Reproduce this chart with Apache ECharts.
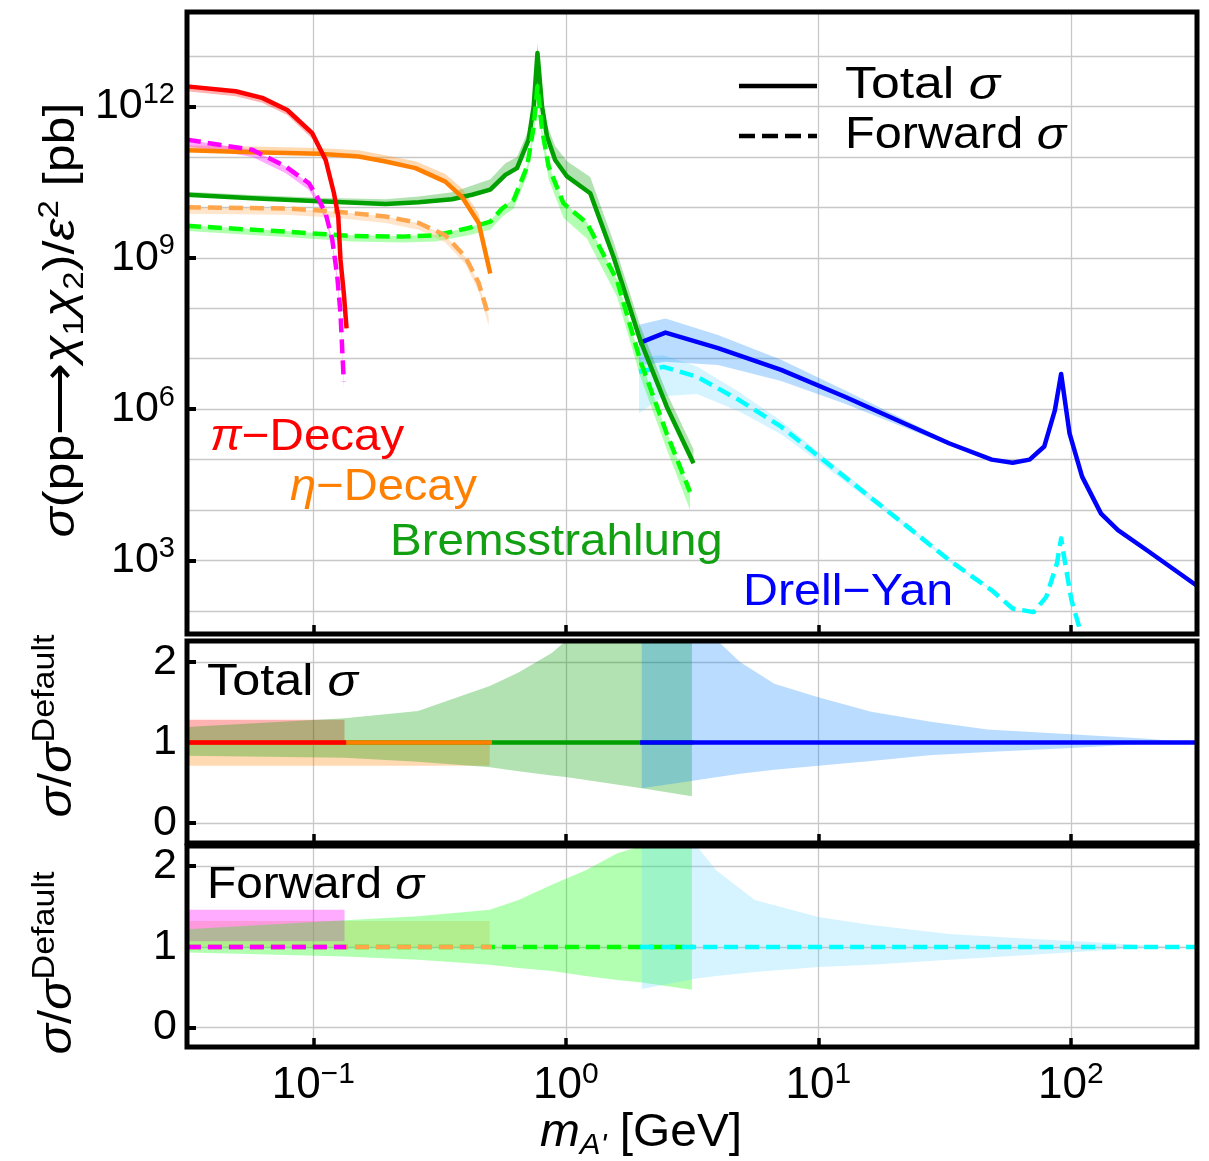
<!DOCTYPE html>
<html><head><meta charset="utf-8">
<script src="https://cdn.jsdelivr.net/npm/echarts@6/dist/echarts.min.js"></script>
<style>html,body{margin:0;padding:0;background:#fff}#c{width:1209px;height:1161px}</style>
</head><body><div id="c"></div>
<script>
// ---------------- DATA ----------------
// x: dark-photon mass m_A' [GeV]; top panel y: sigma/eps^2 [pb]
const xTickDecades = [-1, 0, 1, 2];
const yTopLabelDecades = [3, 6, 9, 12];
const yTopGridDecades = [2, 3, 4, 5, 6, 7, 8, 9, 10, 11, 12, 13];
const ratioTicks = [0, 1, 2];

// central curves [m, sigma]
const piTotal = [[0.0316,2.5e12],[0.0493,2.0e12],[0.0628,1.48e12],[0.0789,8.5e11],[0.0991,2.95e11],[0.112,8.7e10],[0.1208,1.9e10],[0.1256,6.6e9],[0.1282,9.1e8],[0.1321,2.0e8],[0.1355,4.0e7]];
const piForward = [[0.0316,2.2e11],[0.0424,1.74e11],[0.0574,1.38e11],[0.0776,6.5e10],[0.0962,3.0e10],[0.1052,1.41e10],[0.112,7.6e9],[0.1189,2.3e9],[0.1245,4.3e8],[0.1282,7.9e7],[0.1321,3.5e6]];
const etaTotal = [[0.0316,1.35e11],[0.0574,1.23e11],[0.1052,1.15e11],[0.1514,1.02e11],[0.1932,8.1e10],[0.254,6.0e10],[0.3334,3.24e10],[0.388,1.62e10],[0.4519,4.9e9],[0.5023,4.9e8]];
const etaForward = [[0.0316,1.0e10],[0.0776,9.5e9],[0.1225,8.3e9],[0.1932,6.6e9],[0.2618,4.9e9],[0.3334,2.8e9],[0.3999,1.05e9],[0.4519,3.2e8],[0.4955,6.8e7]];
const bremTotal = [[0.0316,1.78e10],[0.0574,1.51e10],[0.1052,1.32e10],[0.1932,1.17e10],[0.2618,1.26e10],[0.3548,1.45e10],[0.4256,1.78e10],[0.5023,2.24e10],[0.5768,4.4e10],[0.6412,6.0e10],[0.7129,2.2e11],[0.7464,1.0e12],[0.7727,1.15e13],[0.8054,1.0e12],[0.8433,2.5e11],[0.9078,8.7e10],[1.0116,4.1e10],[1.2503,1.9e10],[1.5453,1.05e9],[1.972,2.34e7],[2.512,1.12e6],[3.206,8.5e4]];
const bremForward = [[0.0316,4.3e9],[0.0776,3.3e9],[0.1426,2.7e9],[0.2249,2.63e9],[0.3048,2.8e9],[0.413,3.9e9],[0.5023,5.2e9],[0.5598,9.5e9],[0.6223,1.41e10],[0.7031,6.5e10],[0.7464,4.0e11],[0.7727,2.5e12],[0.8054,3.5e11],[0.8551,6.5e10],[0.9795,1.2e10],[1.2134,4.9e9],[1.5959,3.6e8],[1.972,9.3e6],[2.512,3.3e5],[3.105,2.3e4]];
const dyTotal = [[1.95,2.04e7],[2.483,3.3e7],[4.009,1.62e7],[7.129,6.0e6],[12.68,1.78e6],[22.54,4.9e5],[33.11,2.09e5],[48.64,1.0e5],[58.88,8.7e4],[68.71,1.0e5],[78.52,1.82e5],[86.5,9.5e5],[91.6,5.0e6],[98.9,3.3e5],[110.9,4.6e4],[131.8,8.5e3],[153.8,4.0e3],[200.9,1.58e3],[316,316]];
const dyForward = [[1.95,5.5e6],[2.438,6.9e6],[3.311,4.4e6],[4.864,1.51e6],[7.129,4.5e5],[10.07,1.15e5],[15.38,2.14e4],[22.54,4.7e3],[33.11,1.0e3],[48.64,257],[58.88,112],[71.29,95],[79.98,190],[88.1,870],[91.6,2.75e3],[95.06,870],[100.7,162],[108.9,42],[115.3,14]];

// top-panel uncertainty bands [m, low, high]
const piTotalBand = [[0.0316,2.0e12,2.5e12],[0.0493,1.6e12,2.0e12],[0.0628,1.18e12,1.48e12],[0.0789,6.8e11,8.5e11],[0.0991,2.3e11,2.95e11],[0.112,6.9e10,8.7e10],[0.1208,1.5e10,1.9e10],[0.1256,5.2e9,6.6e9],[0.1282,7.3e8,9.1e8],[0.1321,1.6e8,2.0e8],[0.1355,3.2e7,4.0e7]];
const piForwardBand = [[0.0316,1.6e11,2.2e11],[0.0424,1.3e11,1.74e11],[0.0574,1.0e11,1.38e11],[0.0776,4.8e10,6.5e10],[0.0962,2.2e10,3.0e10],[0.1052,1.05e10,1.41e10],[0.112,5.6e9,7.6e9],[0.1189,1.7e9,2.3e9],[0.1245,3.2e8,4.3e8],[0.1282,5.9e7,7.9e7],[0.1321,2.6e6,3.5e6]];
const etaTotalBand = [[0.0316,1.35e11,1.7e11],[0.0574,1.23e11,1.6e11],[0.1052,1.15e11,1.5e11],[0.1514,1.02e11,1.35e11],[0.1932,8.1e10,1.08e11],[0.254,6.0e10,8.2e10],[0.3334,3.24e10,4.6e10],[0.388,1.62e10,2.4e10],[0.4519,4.9e9,7.5e9],[0.5023,4.9e8,7.5e8]];
const etaForwardBand = [[0.0316,7.5e9,1.0e10],[0.0776,7.1e9,9.5e9],[0.1225,6.2e9,8.3e9],[0.1932,4.9e9,6.6e9],[0.2618,3.6e9,4.9e9],[0.3334,2.0e9,2.8e9],[0.3999,7.5e8,1.05e9],[0.4519,2.2e8,3.2e8],[0.4955,4.5e7,6.8e7]];
const bremTotalBand = [[0.0316,1.7e10,2.05e10],[0.0574,1.45e10,1.75e10],[0.1052,1.27e10,1.55e10],[0.1932,1.12e10,1.45e10],[0.2618,1.2e10,1.65e10],[0.3548,1.38e10,2.0e10],[0.4256,1.7e10,2.7e10],[0.5023,2.1e10,3.6e10],[0.5768,4.2e10,7.5e10],[0.6412,5.7e10,1.0e11],[0.7129,2.1e11,3.5e11],[0.7464,9.5e11,1.6e12],[0.7727,1.1e13,1.8e13],[0.8054,9.5e11,1.5e12],[0.8433,2.4e11,4.3e11],[0.9078,8.3e10,1.65e11],[1.0116,3.9e10,8.2e10],[1.2503,1.8e10,4.0e10],[1.5453,1.0e9,2.1e9],[1.972,2.2e7,4.5e7],[2.512,1.06e6,2.1e6],[3.206,8.0e4,1.6e5]];
const bremForwardBand = [[0.0316,3.4e9,4.4e9],[0.0776,2.6e9,3.4e9],[0.1426,2.1e9,2.8e9],[0.2249,2.0e9,2.7e9],[0.3048,2.1e9,2.9e9],[0.413,2.8e9,4.0e9],[0.5023,3.6e9,5.4e9],[0.5598,6.5e9,1.0e10],[0.6223,9.5e9,1.5e10],[0.7031,4.2e10,6.8e10],[0.7464,2.5e11,4.2e11],[0.7727,1.6e12,2.6e12],[0.8054,2.1e11,3.7e11],[0.8551,3.6e10,6.8e10],[0.9795,6.2e9,1.25e10],[1.2134,2.4e9,5.1e9],[1.5959,1.7e8,3.8e8],[1.972,4.5e6,9.8e6],[2.512,1.6e5,3.5e5],[3.105,1.0e4,2.5e4]];
const dyTotalBand = [[1.95,7.3e6,4.7e7],[2.483,8.7e6,6.3e7],[4.009,7.5e6,2.95e7],[7.129,3.6e6,9.5e6],[12.68,1.3e6,2.4e6],[22.54,4.1e5,5.8e5],[33.11,1.9e5,2.3e5],[48.64,9.5e4,1.05e5],[58.88,8.5e4,8.9e4]];
const dyForwardBand = [[1.95,8.3e5,1.1e7],[2.438,1.8e6,1.17e7],[3.311,2.0e6,7.0e6],[4.864,9.0e5,2.2e6],[7.129,3.2e5,5.8e5],[10.07,9.0e4,1.4e5],[15.38,1.8e4,2.5e4],[22.54,4.2e3,5.2e3],[33.11,9.3e2,1.07e3],[48.64,250,265]];

// ratio panels: bands [m, low, high] and unit lines [m, 1]
const piTotalRatio = [[0.0316,1.0,1.28],[0.133,1.0,1.28]];
const etaTotalRatio = [[0.0316,0.71,1.0],[0.50,0.71,1.0]];
const bremTotalRatio = [[0.0316,0.835,1.19],[0.133,0.81,1.30],[0.26,0.76,1.39],[0.5,0.69,1.70],[0.65,0.64,1.87],[0.88,0.59,2.11],[1.0,0.57,2.3],[2.0,0.43,3.0],[3.16,0.33,3.5]];
const dyTotalRatio = [[2.0,0.43,6.0],[3.0,0.51,3.2],[4.0,0.57,2.3],[4.9,0.61,2.0],[6.7,0.66,1.73],[10,0.71,1.56],[16.2,0.77,1.38],[27.5,0.84,1.26],[46.8,0.88,1.16],[100,0.93,1.10],[195,0.98,1.05],[309,1.0,1.0]];
const piForwardRatio = [[0.0316,1.07,1.46],[0.133,1.07,1.46]];
const etaForwardRatio = [[0.0316,1.0,1.32],[0.50,1.0,1.32]];
const bremForwardRatio = [[0.0316,0.93,1.22],[0.133,0.88,1.33],[0.26,0.84,1.38],[0.5,0.78,1.46],[0.65,0.74,1.58],[0.88,0.70,1.77],[1.2,0.64,1.95],[1.6,0.59,2.16],[2.0,0.56,2.4],[3.16,0.47,3.2]];
const dyForwardRatio = [[2.0,0.48,6.0],[3.3,0.61,2.4],[3.94,0.64,1.95],[5.6,0.69,1.58],[10,0.75,1.37],[16.2,0.78,1.27],[33,0.84,1.16],[68,0.90,1.10],[135,0.96,1.05],[195,0.99,1.02],[309,1.0,1.0]];
const piRatioLine = [[0.0316,1],[0.135,1]];
const etaRatioLine = [[0.0316,1],[0.51,1]];
const bremRatioLine = [[0.0316,1],[3.2,1]];
const dyRatioLine = [[1.97,1],[316,1]];

// ---------------- CHART ----------------
const FONT = "'Liberation Sans', Arial, sans-serif";
const lg = Math.log10;
const X_MIN = -1.5, X_MAX = 2.5;
const GRIDS = [
  {left:187, top:12, width:1010, height:622},
  {left:187, top:641, width:1010, height:202},
  {left:187, top:846, width:1010, height:201}
];
const YR = [[1.544, 13.872], [-0.25, 2.26], [-0.24, 2.25]];
const GRIDLINE = {color:'#c8c8c8', width:1.3};
const COL = {
  pi:'#ff0000', piF:'#ff00ff', eta:'#ff8000', etaF:'#ffa64d',
  brem:'#00a000', bremF:'#00ff00', dy:'#0000ff', dyF:'#00ffff'
};
const BAND = {
  pi:'rgba(255,0,0,0.3)', piF:'rgba(255,0,255,0.33)', eta:'rgba(255,128,0,0.3)', etaF:'rgba(255,170,85,0.3)',
  brem:'rgba(0,160,0,0.3)', bremF:'rgba(0,255,0,0.3)', dy:'rgba(0,128,255,0.27)', dyF:'rgba(100,215,255,0.27)'
};

function supRich(big, small) {
  return {
    b:{fontSize:big, fontFamily:FONT, color:'#000', lineHeight:52},
    s:{fontSize:small, fontFamily:FONT, color:'#000', lineHeight:21, verticalAlign:'top'}
  };
}
const NOLINE = {show:false, onZero:false};
const xAxes = GRIDS.map((g, gi) => ({
  type:'value', gridIndex:gi, min:X_MIN, max:X_MAX, splitNumber:4, position:'bottom',
  axisLine:NOLINE,
  axisTick:{show:true, inside:true, length:9, customValues:xTickDecades, lineStyle:{color:'#000', width:3.5}},
  splitLine:{show:true, lineStyle:GRIDLINE},
  axisLabel: gi === 2 ? {
    show:true, customValues:xTickDecades, margin:13,
    formatter: v => '{b|10}{s|' + (v < 0 ? '\u2212' + Math.abs(v) : v) + '}',
    rich: supRich(44, 30)
  } : {show:false}
}));
const yAxes = [];
// top panel: labelled axis + gridline axis
yAxes.push({
  type:'value', gridIndex:0, min:YR[0][0], max:YR[0][1], splitNumber:4, position:'left',
  axisLine:NOLINE,
  axisTick:{show:true, inside:true, length:9, customValues:yTopLabelDecades, lineStyle:{color:'#000', width:4}},
  splitLine:{show:false},
  axisLabel:{show:true, customValues:yTopLabelDecades, margin:12, formatter: v => '{b|10}{s|' + v + '}', rich:supRich(43, 29)}
});
yAxes.push({
  type:'value', gridIndex:0, min:YR[0][0], max:YR[0][1], splitNumber:12, position:'left',
  axisLine:NOLINE,
  axisTick:{show:false, customValues:yTopGridDecades},
  splitLine:{show:true, lineStyle:GRIDLINE},
  axisLabel:{show:false}
});
[1, 2].forEach(gi => {
  yAxes.push({
    type:'value', gridIndex:gi, min:YR[gi][0], max:YR[gi][1], splitNumber:3, position:'left',
    axisLine:NOLINE,
    axisTick:{show:true, inside:true, length:9, customValues:ratioTicks, lineStyle:{color:'#000', width:4}},
    splitLine:{show:true, lineStyle:GRIDLINE},
    axisLabel:{show:true, customValues:ratioTicks, margin:10, fontSize:43, fontFamily:FONT, color:'#000'}
  });
});

function clampPts(pts, r) {
  return pts.map(p => [Math.min(Math.max(p[0], r.x), r.x + r.width), Math.min(Math.max(p[1], r.y), r.y + r.height)]);
}
function band(rows, xi, yi, fill, logY) {
  const data = rows.map(r => [lg(r[0]), logY ? lg(r[1]) : r[1], logY ? lg(r[2]) : r[2]]);
  return {
    type:'custom', xAxisIndex:xi, yAxisIndex:yi, silent:true, animation:false, z:1,
    data: data, encode:{x:0, y:[1, 2]},
    renderItem: function (params, api) {
      if (params.dataIndex !== 0) return null;
      const up = data.map(d => api.coord([d[0], d[2]]));
      const dn = data.slice().reverse().map(d => api.coord([d[0], d[1]]));
      return {type:'polygon', shape:{points:clampPts(up.concat(dn), params.coordSys)}, style:{fill:fill}};
    }
  };
}
function curve(rows, xi, yi, color, dashed, logY) {
  return {
    type:'line', xAxisIndex:xi, yAxisIndex:yi, silent:true, animation:false, z:3,
    showSymbol:false, symbol:'none', clip:true,
    data: rows.map(r => [lg(r[0]), logY ? lg(r[1]) : r[1]]),
    lineStyle:{color:color, width:4.5, type: dashed ? [14, 7] : 'solid', cap:'butt', join:'round'}
  };
}

const series = [
  band(dyForwardBand, 0, 0, BAND.dyF, true),
  band(dyTotalBand, 0, 0, BAND.dy, true),
  band(bremForwardBand, 0, 0, BAND.bremF, true),
  band(bremTotalBand, 0, 0, BAND.brem, true),
  band(etaForwardBand, 0, 0, BAND.etaF, true),
  band(etaTotalBand, 0, 0, BAND.eta, true),
  band(piForwardBand, 0, 0, BAND.piF, true),
  band(piTotalBand, 0, 0, BAND.pi, true),
  curve(dyForward, 0, 0, COL.dyF, true, true),
  curve(dyTotal, 0, 0, COL.dy, false, true),
  curve(bremTotal, 0, 0, COL.brem, false, true),
  curve(bremForward, 0, 0, COL.bremF, true, true),
  curve(etaForward, 0, 0, COL.etaF, true, true),
  curve(etaTotal, 0, 0, COL.eta, false, true),
  curve(piTotal, 0, 0, COL.pi, false, true),
  curve(piForward, 0, 0, COL.piF, true, true),
  band(piTotalRatio, 1, 2, BAND.pi, false),
  band(etaTotalRatio, 1, 2, BAND.eta, false),
  band(bremTotalRatio, 1, 2, BAND.brem, false),
  band(dyTotalRatio, 1, 2, BAND.dy, false),
  curve(bremRatioLine, 1, 2, COL.brem, false, false),
  curve(etaRatioLine, 1, 2, COL.eta, false, false),
  curve(piRatioLine, 1, 2, COL.pi, false, false),
  curve(dyRatioLine, 1, 2, COL.dy, false, false),
  band(etaForwardRatio, 2, 3, BAND.etaF, false),
  band(piForwardRatio, 2, 3, BAND.piF, false),
  band(bremForwardRatio, 2, 3, BAND.bremF, false),
  band(dyForwardRatio, 2, 3, BAND.dyF, false),
  curve(bremRatioLine, 2, 3, COL.bremF, true, false),
  curve(etaRatioLine, 2, 3, COL.etaF, true, false),
  curve(piRatioLine, 2, 3, COL.piF, true, false),
  curve(dyRatioLine, 2, 3, COL.dyF, true, false)
];

function txt(x, y, str, rich, sx) {
  return {
    type:'text', x:x, y:y, scaleX:sx || 1, silent:true, z:50,
    style:{text:str, rich:rich, align:'left', verticalAlign:'middle', textAlign:'left', textVerticalAlign:'middle'}
  };
}
function labRich(color, size) {
  return {
    i:{fontSize:size, fontFamily:FONT, fontStyle:'italic', fill:color, color:color},
    r:{fontSize:size, fontFamily:FONT, fill:color, color:color}
  };
}
function titleRich(size, small) {
  return {
    n:{fontSize:size, fontFamily:FONT, fontStyle:'italic', fill:'#000', lineHeight:size + 10},
    r:{fontSize:size, fontFamily:FONT, fill:'#000', lineHeight:size + 10},
    sub:{fontSize:small, fontFamily:FONT, fill:'#000', lineHeight:small + 2, verticalAlign:'bottom'},
    subi:{fontSize:small, fontFamily:FONT, fontStyle:'italic', fill:'#000', lineHeight:small + 2, verticalAlign:'bottom'},
    sup:{fontSize:small, fontFamily:FONT, fill:'#000', lineHeight:small - 4, verticalAlign:'top'}
  };
}

const graphics = [];
GRIDS.forEach(g => graphics.push({
  type:'rect', silent:true, z:100,
  shape:{x:g.left, y:g.top, width:g.width, height:g.height},
  style:{fill:'none', stroke:'#000', lineWidth:5}
}));
graphics.push(txt(210, 438, '{i|\u03c0}{r|\u2212Decay}', labRich(COL.pi, 44), 1.08));
graphics.push(txt(290, 488, '{i|\u03b7}{r|\u2212Decay}', labRich(COL.eta, 44), 1.07));
graphics.push(txt(390, 543, '{r|Bremsstrahlung}', labRich('#12a012', 44), 1.08));
graphics.push(txt(743, 593, '{r|Drell\u2212Yan}', labRich(COL.dy, 44), 1.1));
// legend
graphics.push({type:'line', silent:true, z:50, shape:{x1:739, y1:86, x2:817, y2:86}, style:{stroke:'#000', lineWidth:4.5}});
graphics.push({type:'line', silent:true, z:50, shape:{x1:739, y1:136, x2:817, y2:136}, style:{stroke:'#000', lineWidth:4.5, lineDash:[16, 7]}});
graphics.push(txt(845, 86, '{r|Total }{i|\u03c3}', labRich('#000', 45), 1.15));
graphics.push(txt(845, 136, '{r|Forward }{i|\u03c3}', labRich('#000', 45), 1.08));
graphics.push(txt(207, 683, '{r|Total }{i|\u03c3}', labRich('#000', 45), 1.12));
graphics.push(txt(207, 886, '{r|Forward }{i|\u03c3}', labRich('#000', 45), 1.06));
// axis titles
graphics.push({
  type:'text', x:62, y:320, rotation:Math.PI / 2, scaleX:1.14, silent:true, z:50,
  style:{text:'{n|\u03c3}{r|(pp\u27f6}{n|\u03c7}{sub|1}{n|\u03c7}{sub|2}{r|)/}{n|\u03b5}{sup|2}{r| [pb]}', rich:titleRich(44, 29),
    align:'center', verticalAlign:'middle', textAlign:'center', textVerticalAlign:'middle'}
});
graphics.push({
  type:'text', x:58, y:726, rotation:Math.PI / 2, scaleX:1.1, silent:true, z:50,
  style:{text:'{n|\u03c3}{r|/}{n|\u03c3}{sup|Default}', rich:titleRich(46, 31),
    align:'center', verticalAlign:'middle', textAlign:'center', textVerticalAlign:'middle'}
});
graphics.push({
  type:'text', x:58, y:963, rotation:Math.PI / 2, scaleX:1.1, silent:true, z:50,
  style:{text:'{n|\u03c3}{r|/}{n|\u03c3}{sup|Default}', rich:titleRich(46, 31),
    align:'center', verticalAlign:'middle', textAlign:'center', textVerticalAlign:'middle'}
});
graphics.push({
  type:'text', x:641, y:1133, scaleX:1.04, silent:true, z:50,
  style:{text:'{n|m}{subi|A\'}{r| [GeV]}', rich:titleRich(46, 30),
    align:'center', verticalAlign:'middle', textAlign:'center', textVerticalAlign:'middle'}
});

const chart = echarts.init(document.getElementById('c'), null, {renderer:'canvas'});
chart.setOption({
  animation:false,
  backgroundColor:'#ffffff',
  grid: GRIDS.map(g => Object.assign({containLabel:false, show:false}, g)),
  xAxis: xAxes,
  yAxis: yAxes,
  series: series,
  graphic: graphics
});
</script></body></html>
